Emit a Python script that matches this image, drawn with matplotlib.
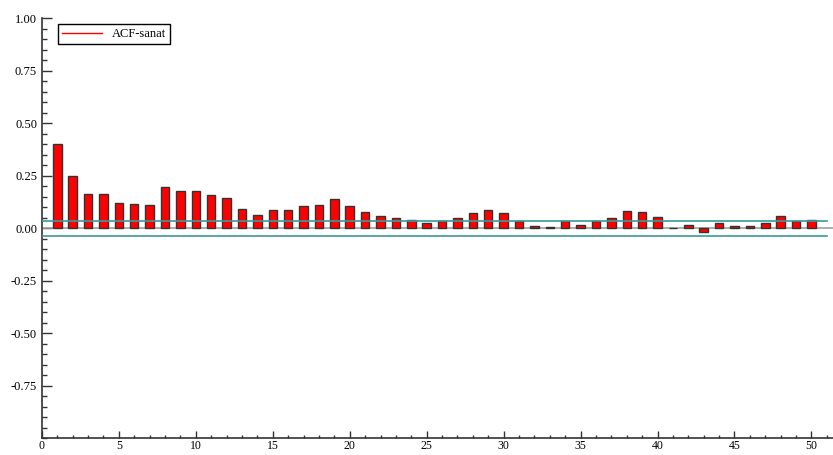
import numpy as np
import matplotlib
matplotlib.use("Agg")
import matplotlib.pyplot as plt
from matplotlib.ticker import MultipleLocator, FormatStrFormatter

# ACF values per lag
lags = np.arange(1, 51)
acf = [
    0.400, 0.249, 0.162, 0.162, 0.122, 0.116, 0.110, 0.197, 0.179, 0.179,
    0.156, 0.144, 0.092, 0.063, 0.087, 0.087, 0.105, 0.111, 0.140, 0.105,
    0.076, 0.057, 0.048, 0.041, 0.024, 0.032, 0.048, 0.071, 0.087, 0.071,
    0.033, 0.011, 0.006, 0.032, 0.017, 0.032, 0.048, 0.081, 0.076, 0.052,
    0.002, 0.017, -0.018, 0.024, 0.011, 0.011, 0.024, 0.057, 0.032, 0.041,
]
conf = 0.035  # approx 2/sqrt(T) band
series_name = "ACF-sanat"

plt.rcParams["font.family"] = ["Liberation Serif", "DejaVu Serif"]

fig = plt.figure(figsize=(8.33, 4.55), dpi=100)
ax = fig.add_axes([0.0503, 0.037, 0.9497, 0.923])

ax.bar(lags, acf, width=0.55, color="#ff0000", edgecolor="#333333",
       linewidth=1.0, zorder=3)
ax.axhline(0, color="#a0a0a0", linewidth=1.2, zorder=2)
ax.plot([0, 51], [conf, conf], color="#3a9a9a", linewidth=1.2, zorder=4)
ax.plot([0, 51], [-conf, -conf], color="#3a9a9a", linewidth=1.2, zorder=4)

# legend entry is a red line
ax.plot([], [], color="#ff0000", linewidth=1.0, label=series_name)
leg = ax.legend(loc="upper left", bbox_to_anchor=(0.013, 1.0), fontsize=9,
                fancybox=False, edgecolor="black", framealpha=1,
                handlelength=3.2, borderpad=0.3)
leg.get_frame().set_linewidth(1.0)

ax.set_xlim(0, 51.4)
ax.set_ylim(-1.0, 1.0)
ax.xaxis.set_major_locator(MultipleLocator(5))
ax.xaxis.set_minor_locator(MultipleLocator(1))
ax.yaxis.set_major_locator(MultipleLocator(0.25))
ax.yaxis.set_minor_locator(MultipleLocator(0.05))
ax.yaxis.set_major_formatter(FormatStrFormatter("%.2f"))
ax.set_yticks([-0.75, -0.5, -0.25, 0, 0.25, 0.5, 0.75, 1.0])

ax.tick_params(which="both", direction="in", labelsize=9, color="#333333")
ax.tick_params(axis="y", which="major", length=7, width=1)
ax.tick_params(axis="y", which="minor", length=3.5, width=1)
ax.tick_params(axis="x", which="major", length=5, width=1)
ax.tick_params(axis="x", which="minor", length=2.5, width=1)
ax.tick_params(axis="x", labelsize=8.5, pad=1)

for s in ["top", "right"]:
    ax.spines[s].set_visible(False)
for s in ["left", "bottom"]:
    ax.spines[s].set_color("#333333")
    ax.spines[s].set_linewidth(1.2)

fig.savefig("out.png", dpi=100)
